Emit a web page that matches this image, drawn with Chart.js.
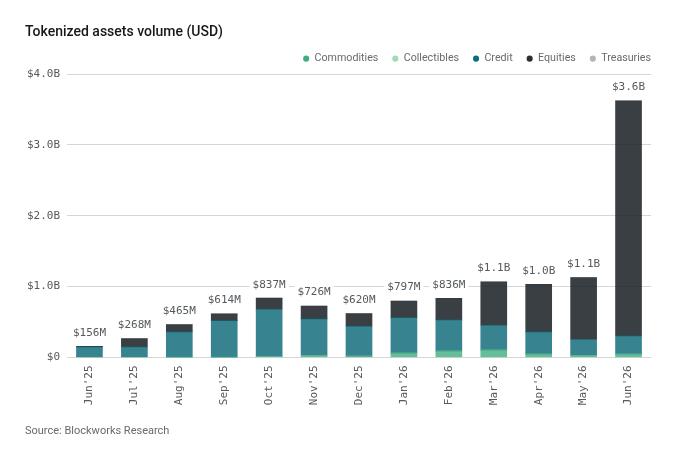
<!DOCTYPE html>
<html>
<head>
<meta charset="utf-8">
<style>
  html, body { margin: 0; padding: 0; background: #fff; }
  #wrap { width: 680px; height: 461px; }
</style>
<script src="https://cdn.jsdelivr.net/npm/chart.js@4"></script>
</head>
<body>
<div id="wrap"><canvas id="chart" width="680" height="461"></canvas></div>
<script>
// ─── Data ─────────────────────────────────────────────────────────────────
const months = ["Jun'25", "Jul'25", "Aug'25", "Sep'25", "Oct'25", "Nov'25", "Dec'25",
  "Jan'26", "Feb'26", "Mar'26", "Apr'26", "May'26", "Jun'26"];
const commodities = [0, 0, 2, 2, 14, 28, 20, 61, 89, 103, 47, 28, 44];
const collectibles = [0, 0, 0, 0, 0, 0, 0, 0, 0, 0, 0, 0, 3];
const credit = [150, 150, 359, 518, 666, 516, 421, 502, 441, 352, 314, 225, 257];
const equities = [6, 118, 104, 94, 157, 182, 179, 234, 306, 614, 671, 873, 3316];
const treasuries = [0, 0, 0, 0, 0, 0, 0, 0, 0, 0, 0, 0, 0];
const totals = [156, 268, 465, 614, 837, 726, 620, 797, 836, 1069, 1032, 1126, 3620];
const totalLabels = ['$156M', '$268M', '$465M', '$614M', '$837M', '$726M', '$620M',
  '$797M', '$836M', '$1.1B', '$1.0B', '$1.1B', '$3.6B'];
const yTicks = { 0: '$0', 1000: '$1.0B', 2000: '$2.0B', 3000: '$3.0B', 4000: '$4.0B' };

const MONO = '"DejaVu Sans Mono", monospace';
const SANS = 'Roboto, sans-serif';

// ─── Total labels above each stack ────────────────────────────────────────
const totalLabelPlugin = {
  id: 'totalLabels',
  afterDatasetsDraw(chart) {
    const { ctx, scales: { x, y } } = chart;
    ctx.save();
    ctx.font = '11px ' + MONO;
    ctx.textAlign = 'center';
    ctx.textBaseline = 'middle';
    totalLabels.forEach((label, i) => {
      const cx = x.getPixelForValue(i);
      const cy = y.getPixelForValue(totals[i]) - 13.5;
      const w = ctx.measureText(label).width;
      ctx.fillStyle = '#fff';
      ctx.fillRect(cx - w / 2 - 3, cy - 7, w + 6, 14);
      ctx.fillStyle = '#555a5e';
      ctx.fillText(label, cx, cy);
    });
    ctx.restore();
  },
};

// legend keeps a trailing gap after the last item, push it out to the plot edge
// (the extra 0.5 stops the last item wrapping on a rounding difference)
const legendEdgePlugin = {
  id: 'legendEdge',
  afterLayout(chart) {
    chart.legend.right += 14.5;
    chart.legend.lineWidths[0] += 0.5;
  },
};

function makeDataset(label, data, color, legendColor) {
  return { label, data, backgroundColor: color, legendColor, stack: 'a', barThickness: 26, borderWidth: 0 };
}

new Chart(document.getElementById('chart'), {
  type: 'bar',
  data: {
    labels: months,
    datasets: [
      makeDataset('Commodities', commodities, 'rgba(61,175,126,0.8)', '#3daf7e'),
      makeDataset('Collectibles', collectibles, 'rgba(163,217,184,0.8)', '#a3d9b8'),
      makeDataset('Credit', credit, 'rgba(11,104,120,0.82)', '#0b6e7d'),
      makeDataset('Equities', equities, 'rgba(24,29,35,0.85)', '#2b2e32'),
      makeDataset('Treasuries', treasuries, 'rgba(181,181,181,0.8)', '#b5b5b5'),
    ],
  },
  options: {
    responsive: false,
    animation: false,
    layout: { padding: { left: 25, right: 29, top: 0, bottom: 0 } },
    plugins: {
      title: {
        display: true,
        text: 'Tokenized assets volume (USD)',
        align: 'start',
        color: '#15191c',
        font: { family: SANS, size: 14, weight: '500' },
        padding: { top: 24, bottom: -1.5 },
      },
      subtitle: {
        display: true,
        position: 'bottom',
        text: 'Source: Blockworks Research',
        align: 'start',
        color: '#666b6e',
        font: { family: SANS, size: 11, weight: '400' },
        padding: { top: 11.6, bottom: 23 },
      },
      legend: {
        position: 'top',
        align: 'end',
        labels: {
          usePointStyle: true,
          pointStyle: 'circle',
          boxWidth: 6,
          boxHeight: 4.3,
          padding: 14,
          color: '#666b6e',
          font: { family: SANS, size: 10.7 },
          generateLabels(chart) {
            return chart.data.datasets.map((d, i) => ({
              text: d.label,
              fillStyle: d.legendColor,
              strokeStyle: d.legendColor,
              fontColor: '#666b6e',
              pointStyle: 'circle',
              lineWidth: 0,
              datasetIndex: i,
            }));
          },
        },
      },
      tooltip: { enabled: false },
    },
    scales: {
      x: {
        stacked: true,
        border: { display: false },
        grid: { display: false, drawTicks: false },
        ticks: {
          minRotation: 90,
          maxRotation: 90,
          autoSkip: false,
          padding: 8,
          color: '#555a5e',
          font: { family: MONO, size: 11 },
        },
      },
      y: {
        stacked: true,
        min: 0,
        max: 4000,
        afterFit(axis) { axis.width = 42; },
        border: { display: false },
        grid: { color: '#d4d6d7', drawTicks: false, lineWidth: 1 },
        ticks: {
          stepSize: 1000,
          padding: 7,
          color: '#555a5e',
          font: { family: MONO, size: 11 },
          callback: (v) => yTicks[v],
        },
      },
    },
  },
  plugins: [totalLabelPlugin, legendEdgePlugin],
});
</script>
</body>
</html>
